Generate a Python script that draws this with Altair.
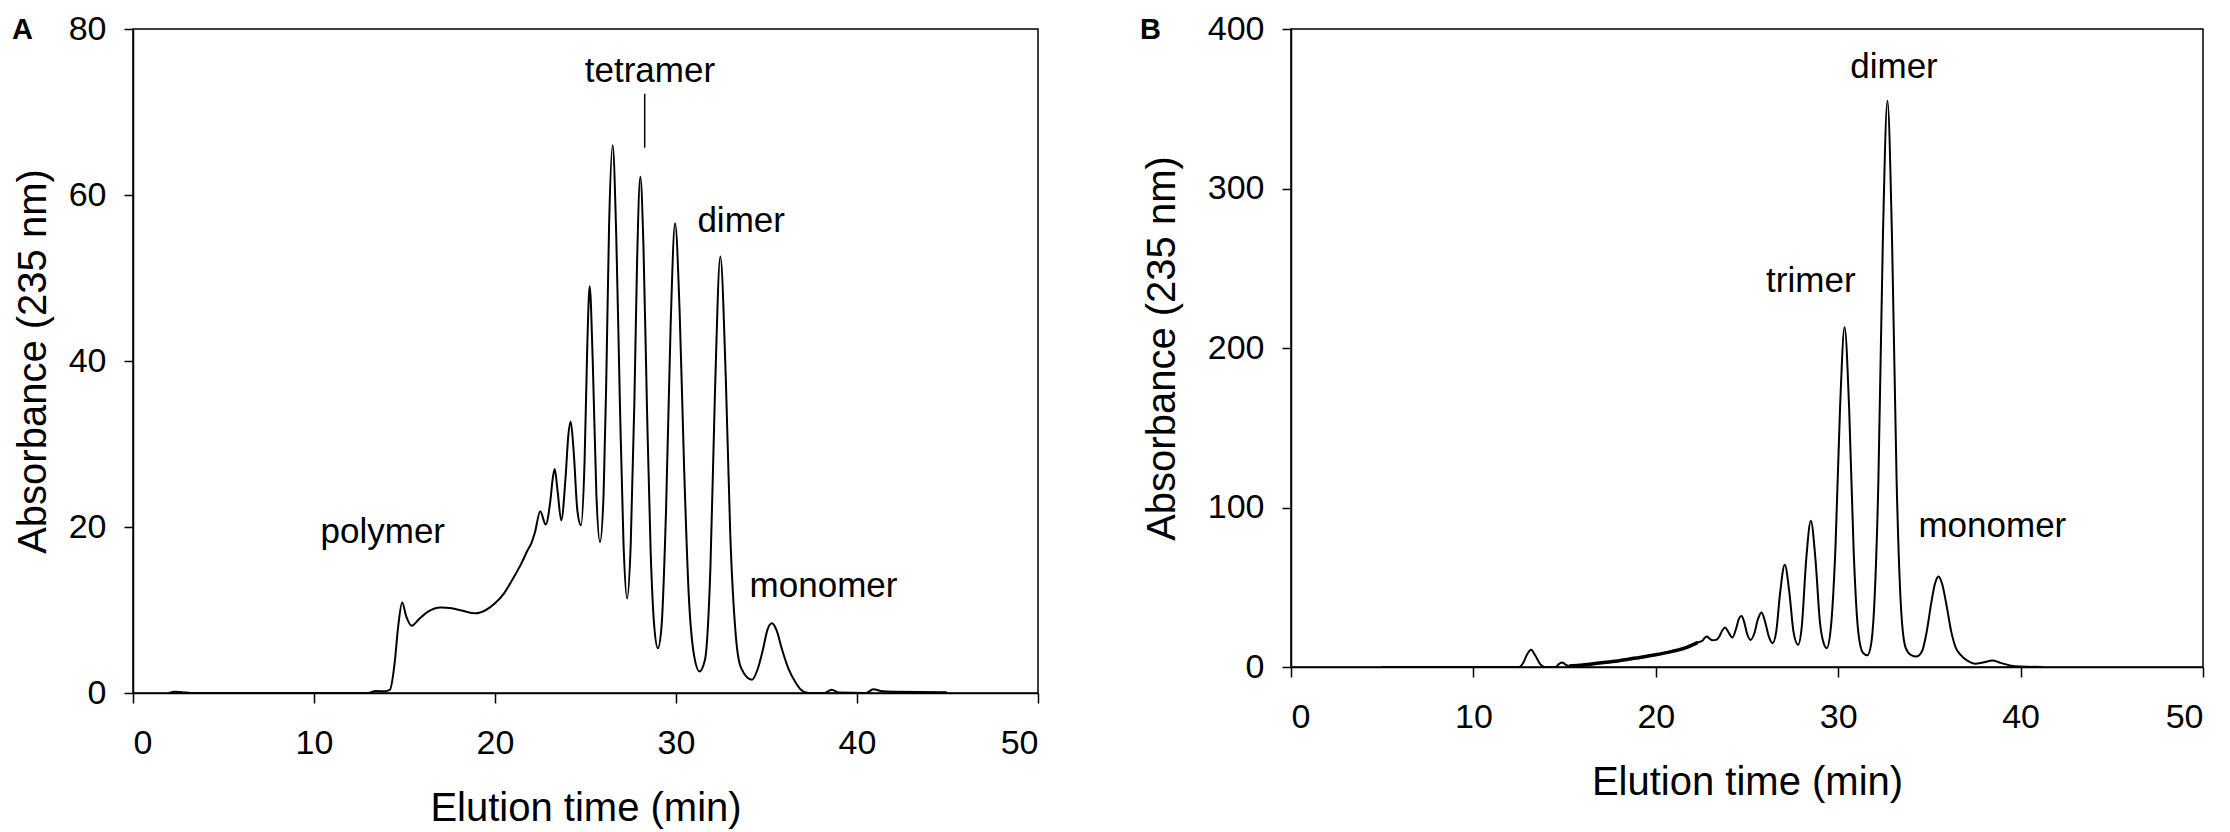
import altair as alt
import pandas as pd

FONT = "Liberation Sans"

# ---------------- Panel A data ----------------
a_time = [2.0, 2.3, 2.7, 3.2, 13.0, 13.4, 13.9, 14.2, 14.45, 14.65, 14.87, 15.1, 15.4, 15.8, 16.3,
          17.0, 17.6, 18.2, 18.9, 19.5, 20.0, 20.5, 21.0, 21.5, 21.8, 22.0, 22.2, 22.5, 22.8, 23.05,
          23.2, 23.3, 23.45, 23.66, 23.9, 24.05, 24.18, 24.35, 24.55, 24.75, 24.95, 25.1, 25.23, 25.4,
          25.6, 25.8, 26.0, 26.15, 26.3, 26.5, 26.7, 26.9, 27.1, 27.3, 27.5, 27.7, 27.85, 28.03, 28.2,
          28.4, 28.6, 28.8, 29.0, 29.2, 29.45, 29.7, 29.95, 30.2, 30.45, 30.7, 31.0, 31.3, 31.6, 31.9,
          32.15, 32.45, 32.75, 33.0, 33.3, 33.6, 34.2, 34.5, 34.8, 35.05, 35.3, 35.55, 35.85, 36.2,
          36.6, 36.9, 37.3, 38.2, 38.6, 39.0, 40.5, 40.9, 41.4, 42.0, 44.9, 45.0]
a_abs = [0, 0.15, 0.1, 0, 0, 0.25, 0.2, 0.4, 3.5, 8.0, 10.9, 9.2, 8.1, 8.9, 9.8,
         10.3, 10.2, 9.9, 9.6, 10.0, 10.8, 12.0, 13.8, 15.8, 17.2, 18.0, 19.3, 21.9, 20.3, 23.0,
         26.0, 27.0, 24.5, 20.8, 26.0, 31.0, 32.7, 29.0, 22.0, 20.2, 28.0, 42.0, 49.0, 40.0,
         24.0, 18.2, 24.0, 38.0, 56.0, 66.0, 55.0, 35.0, 18.0, 11.4, 18.0, 35.0, 52.0, 62.2, 54.0,
         34.0, 17.0, 8.0, 5.4, 8.0, 22.0, 44.0, 56.6, 46.0, 27.0, 12.0, 4.5, 2.6, 4.0, 15.0,
         36.0, 52.6, 38.0, 19.0, 7.0, 3.0, 1.6, 2.8, 5.2, 7.6, 8.4, 7.6, 5.3, 3.0,
         1.3, 0.4, 0, 0, 0.4, 0.05, 0, 0.45, 0.2, 0.15, 0.1, 0]

a_label_text = ["polymer", "tetramer", "dimer", "monomer"]
a_label_time = [13.8, 28.56, 33.6, 38.15]
a_label_abs = [18.1, 73.6, 55.5, 11.6]

a_pointer_time = [28.27]
a_pointer_low = [65.7]
a_pointer_high = [72.2]

# ---------------- Panel B data ----------------
b_time = [5.0, 12.5, 12.75, 12.95, 13.16, 13.4, 13.65, 13.9, 14.5, 14.7, 14.86, 15.05, 15.25, 16.0,
          16.9, 17.9, 18.9, 19.9, 20.9, 21.7, 22.3, 22.55, 22.7, 22.8, 22.95, 23.1, 23.3, 23.5, 23.65,
          23.8, 23.95, 24.1, 24.2, 24.4, 24.55, 24.7, 24.85, 25.0, 25.2, 25.4, 25.6, 25.8, 26.0, 26.2,
          26.4, 26.6, 26.82, 27.07, 27.32, 27.55, 27.8, 28.0, 28.25, 28.5, 28.75, 29.0, 29.2, 29.37,
          29.6, 29.85, 30.1, 30.35, 30.6, 30.85, 31.1, 31.35, 31.6, 31.8, 31.95, 32.2, 32.45, 32.7,
          32.95, 33.2, 33.45, 33.7, 34.0, 34.3, 34.6, 34.85, 35.1, 35.3, 35.5, 35.7, 35.95, 36.2,
          36.45, 36.7, 37.1, 37.5, 38.0, 38.46, 38.9, 39.4, 40.0, 41.2]
b_abs = [0, 0, 3, 8, 10.8, 7, 2, 0, 0, 2, 2.9, 1.5, 0.6, 1.3,
         2.5, 3.8, 5.6, 7.5, 9.8, 12.3, 15.4, 16.5, 18.5, 19.1, 17.8, 16.8, 17.0, 19.5, 23,
         24.7, 22.5, 19.5, 18.5, 24, 30, 32, 28, 21, 17, 21, 30, 34.2, 28, 19,
         14.9, 22, 47, 64.1, 47, 22, 13.9, 25, 68, 91.7, 68, 28, 15, 11.8,
         25, 75, 162, 213, 162, 72, 22, 9, 7.3, 14, 33, 115, 269, 355,
         269, 118, 36, 12, 7.5, 6.6, 10, 22, 40, 52, 56.8, 52, 38, 22,
         12, 7.7, 3.8, 2.1, 3.0, 4.1, 2.6, 1.0, 0.3, 0]
# the slowly rising stretch of trace B that is drawn heavier in the original
b_bold_range = [15.25, 22.3]

b_label_text = ["trimer", "dimer", "monomer"]
b_label_time = [28.5, 33.06, 38.45]
b_label_abs = [235, 369, 81.4]

x_ticks = [0, 10, 20, 30, 40, 50]
a_y_ticks = [0, 20, 40, 60, 80]
b_y_ticks = [0, 100, 200, 300, 400]

assert len(a_time) == len(a_abs)
assert len(b_time) == len(b_abs)

a_df = pd.DataFrame({"t": a_time, "v": a_abs})
b_df = pd.DataFrame({"t": b_time, "v": b_abs})
b_bold = b_df[(b_df.t >= b_bold_range[0]) & (b_df.t <= b_bold_range[1])]
a_lab = pd.DataFrame({"t": a_label_time, "v": a_label_abs, "txt": a_label_text})
b_lab = pd.DataFrame({"t": b_label_time, "v": b_label_abs, "txt": b_label_text})
a_ptr = pd.DataFrame({"t": a_pointer_time, "lo": a_pointer_low, "hi": a_pointer_high})


def panel(df, lab, ymax, yticks, width, height, letter, letter_x, y_title_pad,
          ptr=None, bold=None):
    xs = alt.Scale(domain=[0, 50], nice=False)
    ys = alt.Scale(domain=[0, ymax], nice=False)
    xax = alt.Axis(values=x_ticks, title="Elution time (min)", format="d")
    yax = alt.Axis(values=yticks, title="Absorbance (235 nm)", format="d",
                   titlePadding=y_title_pad)
    line = alt.Chart(df).mark_line(color="black", strokeWidth=2, interpolate="monotone").encode(
        x=alt.X("t:Q", scale=xs, axis=xax),
        y=alt.Y("v:Q", scale=ys, axis=yax),
    )
    texts = alt.Chart(lab).mark_text(font=FONT, fontSize=35, color="black",
                                     align="center", baseline="alphabetic").encode(
        x=alt.X("t:Q", scale=xs), y=alt.Y("v:Q", scale=ys), text="txt:N")
    letter_df = pd.DataFrame({"l": [letter]})
    let = alt.Chart(letter_df).mark_text(font=FONT, fontSize=29, fontWeight="bold",
                                         color="black", align="left", baseline="top").encode(
        x=alt.value(letter_x), y=alt.value(-13), text="l:N")
    layers = [line, texts, let]
    if bold is not None:
        heavy = alt.Chart(bold).mark_line(color="black", strokeWidth=3.5,
                                          interpolate="monotone").encode(
            x=alt.X("t:Q", scale=xs), y=alt.Y("v:Q", scale=ys))
        layers.append(heavy)
    if ptr is not None:
        rule = alt.Chart(ptr).mark_rule(color="black", strokeWidth=1.5).encode(
            x=alt.X("t:Q", scale=xs), y=alt.Y("lo:Q", scale=ys), y2="hi:Q")
        layers.append(rule)
    return alt.layer(*layers).properties(width=width, height=height)


pa = panel(a_df, a_lab, 80, a_y_ticks, 905, 664, "A", -121, 15, ptr=a_ptr)
pb = panel(b_df, b_lab, 400, b_y_ticks, 912, 638, "B", -151, 25, bold=b_bold)

chart = alt.hconcat(pa, pb, spacing=99).properties(
    padding={"left": 3, "top": 3, "right": 0, "bottom": 0}
).configure_axis(
    labelFont=FONT, titleFont=FONT, labelFontSize=34, titleFontSize=40,
    labelColor="black", titleColor="black", titleFontWeight="normal",
    grid=False, domainColor="black", tickColor="black", domainWidth=1.5, tickWidth=1.5,
).configure_axisX(
    tickSize=10, labelPadding=23, titlePadding=28,
).configure_axisY(
    tickSize=9, labelPadding=18,
).configure_view(
    stroke="black", strokeWidth=1.5,
)

chart.save("out.html", embed_options={"renderer": "svg", "actions": False})
